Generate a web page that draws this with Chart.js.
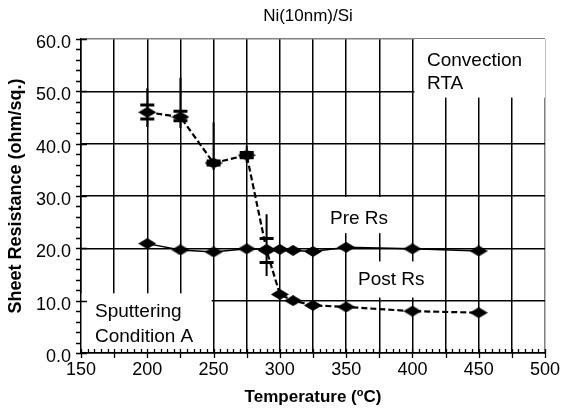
<!DOCTYPE html>
<html>
<head>
<meta charset="utf-8">
<script src="https://cdn.jsdelivr.net/npm/chart.js@4.4.1/dist/chart.umd.min.js"></script>
<style>
  html, body { margin: 0; padding: 0; background: #fff; }
  #wrap { width: 569px; height: 413px; }
</style>
</head>
<body>
<div id="wrap"><canvas id="myChart" width="569" height="413"></canvas></div>
<script>
// data
const preTemps = [200, 225, 250, 275, 290, 300, 310, 325, 350, 400, 450];
const preRs = [20.9, 19.7, 19.3, 19.9, 19.8, 19.8, 19.6, 19.4, 20.2, 19.9, 19.5];

const postTemps = [200, 225, 250, 275, 290, 300, 310, 325, 350, 400, 450];
const postRs = [46.0, 45.1, 36.3, 37.8, 19.6, 11.2, 10.0, 9.1, 8.8, 8.0, 7.7];
// error bars on post Rs (whisker ends and caps), null = none
const postErrTop = [50.6, 52.6, 44.1, 39.6, 26.5, null, null, null, null, null, null];
const postErrBottom = [43.2, 43.0, 35.0, 36.3, 14.7, null, null, null, null, null, null];
const postCapTop = [47.4, 46.2, 36.7, 38.3, 21.9, null, null, null, null, null, null];
const postCapBottom = [44.7, 44.4, 35.9, 37.3, 17.3, null, null, null, null, null, null];

const xTicks = [150, 200, 250, 300, 350, 400, 450, 500];
const yTicks = [0, 10, 20, 30, 40, 50, 60];

const font = "'Liberation Sans', Arial, sans-serif";

// little horizontal diamond used as marker
function diamond(w, h) {
    let c = document.createElement('canvas');
    c.width = w;
    c.height = h;
    let g = c.getContext('2d');
    g.fillStyle = '#000';
    g.beginPath();
    g.moveTo(0, h / 2);
    g.lineTo(w / 2, 0);
    g.lineTo(w, h / 2);
    g.lineTo(w / 2, h);
    g.closePath();
    g.fill();
    return c;
}
const marker = diamond(18, 11);

// white text boxes sitting on the grid (data coords for the box, pixels for the text)
const boxes = [
    { x1: 401.5, x2: 500, y1: 48.8, y2: 60, lines: ['Convection', 'RTA'], tx: 427, ty: 61, lh: 23 },
    { x1: 327.5, x2: 398, y1: 22.9, y2: 29.8, lines: ['Pre Rs'], tx: 330, ty: 219, lh: 20 },
    { x1: 352, x2: 421, y1: 10.6, y2: 17.5, lines: ['Post Rs'], tx: 358, ty: 280, lh: 20 },
    { x1: 150.5, x2: 248.5, y1: 0.2, y2: 11.4, lines: ['Sputtering', 'Condition A'], tx: 95, ty: 312, lh: 25 }
];

const boxPlugin = {
    id: 'boxes',
    beforeDatasetsDraw(chart) {
        let { ctx, scales: { x, y } } = chart;
        ctx.save();
        ctx.fillStyle = '#fff';
        boxes.forEach(b => {
            let l = x.getPixelForValue(b.x1), r = x.getPixelForValue(b.x2);
            let t = y.getPixelForValue(b.y2), bt = y.getPixelForValue(b.y1);
            ctx.fillRect(l, t, r - l, bt - t);
        });
        ctx.fillStyle = '#000';
        ctx.font = '19px ' + font;
        ctx.textBaseline = 'middle';
        ctx.textAlign = 'left';
        boxes.forEach(b => {
            b.lines.forEach((s, i) => ctx.fillText(s, b.tx, b.ty + i * b.lh));
        });

        // axis ticks, minor and major
        let area = chart.chartArea;
        ctx.strokeStyle = '#000';
        ctx.lineWidth = 1.3;
        ctx.beginPath();
        for (let v = 150; v <= 500; v += 5) {
            let px = Math.round(x.getPixelForValue(v)) + 0.5;
            if (v % 25 === 0) {
                ctx.moveTo(px, area.bottom - 4);
                ctx.lineTo(px, area.bottom + 5);
            } else {
                ctx.moveTo(px, area.bottom - 4);
                ctx.lineTo(px, area.bottom);
            }
        }
        for (let v = 0; v <= 60; v += 2) {
            let py = Math.round(y.getPixelForValue(v)) + 0.5;
            if (v % 10 === 0) {
                ctx.moveTo(area.left - 5, py);
                ctx.lineTo(area.left + 6, py);
            } else {
                ctx.moveTo(area.left - 5, py);
                ctx.lineTo(area.left, py);
            }
        }
        ctx.stroke();

        // error bars
        ctx.lineWidth = 2;
        ctx.beginPath();
        postTemps.forEach((t, i) => {
            if (postErrTop[i] == null) return;
            let px = x.getPixelForValue(t);
            ctx.moveTo(px, y.getPixelForValue(postErrTop[i]));
            ctx.lineTo(px, y.getPixelForValue(postErrBottom[i]));
        });
        ctx.stroke();
        ctx.lineWidth = 3;
        ctx.beginPath();
        postTemps.forEach((t, i) => {
            if (postCapTop[i] == null) return;
            let px = x.getPixelForValue(t);
            [postCapTop[i], postCapBottom[i]].forEach(v => {
                let py = y.getPixelForValue(v);
                ctx.moveTo(px - 7, py);
                ctx.lineTo(px + 7, py);
            });
        });
        ctx.stroke();
        ctx.restore();
    },
    afterDraw(chart) {
        let { ctx, chartArea: area } = chart;
        ctx.save();
        ctx.fillStyle = '#000';
        ctx.textAlign = 'center';
        ctx.textBaseline = 'middle';
        ctx.font = '17px ' + font;
        ctx.fillText('Ni(10nm)/Si', 308, 16);

        // x title with superscript o
        let a = 'Temperature (', sup = 'o', b = 'C)';
        ctx.font = 'bold 17px ' + font;
        let wa = ctx.measureText(a).width, wb = ctx.measureText(b).width;
        ctx.font = 'bold 11px ' + font;
        let ws = ctx.measureText(sup).width;
        let total = wa + ws + wb;
        let cx = (area.left + area.right) / 2 - total / 2;
        ctx.textAlign = 'left';
        ctx.font = 'bold 17px ' + font;
        ctx.fillText(a, cx, 397);
        ctx.font = 'bold 11px ' + font;
        ctx.fillText(sup, cx + wa, 393);
        ctx.font = 'bold 17px ' + font;
        ctx.fillText(b, cx + wa + ws, 397);

        ctx.font = 'bold 18px ' + font;
        ctx.translate(16, (area.top + area.bottom) / 2);
        ctx.rotate(-Math.PI / 2);
        ctx.textAlign = 'center';
        ctx.fillText('Sheet Resistance (ohm/sq.)', 0, 0);
        ctx.restore();
    }
};

const ctx = document.getElementById('myChart').getContext('2d');
const myChart = new Chart(ctx, {
    type: 'scatter',
    data: {
        datasets: [{
            label: 'Pre Rs',
            data: preTemps.map((t, i) => ({ x: t, y: preRs[i] })),
            showLine: true,
            borderColor: '#000',
            borderWidth: 1.5,
            pointStyle: marker,
            pointRadius: 6
        }, {
            label: 'Post Rs',
            data: postTemps.map((t, i) => ({ x: t, y: postRs[i] })),
            showLine: true,
            borderColor: '#000',
            borderWidth: 2.2,
            borderDash: [6, 3],
            pointStyle: marker,
            pointRadius: 6
        }]
    },
    options: {
        responsive: false,
        animation: false,
        events: [],
        layout: { padding: { top: 39, right: 24, left: 0, bottom: 0 } },
        plugins: {
            legend: { display: false },
            tooltip: { enabled: false }
        },
        scales: {
            x: {
                type: 'linear',
                min: 150,
                max: 500,
                afterFit: s => { s.height = 60; },
                afterBuildTicks: s => { s.ticks = [150, 175, 200, 225, 250, 275, 300, 325, 350, 375, 400, 425, 450, 475, 500].map(v => ({ value: v })); },
                ticks: {
                    autoSkip: false,
                    maxRotation: 0,
                    padding: 6,
                    color: '#000',
                    font: { family: font, size: 18 },
                    callback: v => xTicks.includes(v) ? String(v) : ''
                },
                grid: {
                    drawTicks: false,
                    lineWidth: 1.5,
                    color: c => (c.tick && c.tick.value === 500) ? '#808080' : '#000'
                },
                border: { color: '#000', width: 1.5 }
            },
            y: {
                min: 0,
                max: 60,
                afterFit: s => { s.width = 81; },
                afterBuildTicks: s => { s.ticks = yTicks.map(v => ({ value: v })); },
                ticks: {
                    padding: 10,
                    labelOffset: 4,
                    color: '#000',
                    font: { family: font, size: 18 },
                    callback: v => v.toFixed(1)
                },
                grid: {
                    drawTicks: false,
                    lineWidth: 1.5,
                    color: c => (c.tick && c.tick.value === 60) ? '#808080' : '#000'
                },
                border: { color: '#000', width: 1.5 }
            }
        }
    },
    plugins: [boxPlugin]
});
</script>
</body>
</html>
